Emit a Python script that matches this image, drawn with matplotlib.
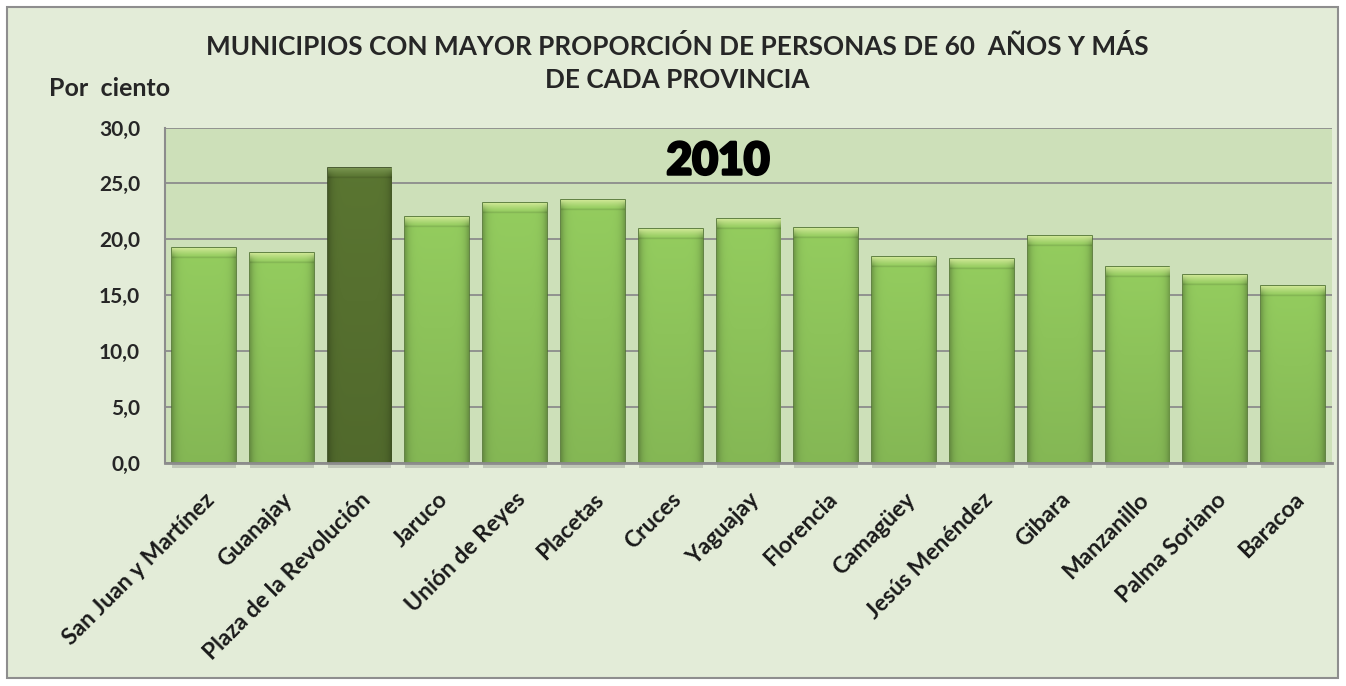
import numpy as np
import matplotlib
matplotlib.use("Agg")
import matplotlib.pyplot as plt
from matplotlib.patches import Rectangle
from matplotlib.colors import to_rgb
from matplotlib import patheffects

municipios = ["San Juan y Martínez", "Guanajay", "Plaza de la Revolución", "Jaruco",
              "Unión de Reyes", "Placetas", "Cruces", "Yaguajay", "Florencia",
              "Camagüey", "Jesús Menéndez", "Gibara", "Manzanillo", "Palma Soriano",
              "Baracoa"]
porcentajes = [19.2, 18.8, 26.4, 22.0, 23.2, 23.5, 20.9, 21.8, 21.0,
               18.4, 18.2, 20.3, 17.5, 16.8, 15.8]
destacado = "Plaza de la Revolución"
y_ticks = [0, 5, 10, 15, 20, 25, 30]
titulo_1 = "MUNICIPIOS CON MAYOR PROPORCIÓN DE PERSONAS DE 60  AÑOS Y MÁS"
titulo_2 = "DE CADA PROVINCIA"
unidad = "Por  ciento"
anio = "2010"

plt.rcParams['font.family'] = ['Lato', 'DejaVu Sans']

W, H = 1346, 686
fig = plt.figure(figsize=(W / 100, H / 100), dpi=100)
fig.patch.set_facecolor('white')

# marco exterior del grafico
fig.patches.append(Rectangle((7 / W, 8 / H), (1338 - 7) / W, (679 - 8) / H,
                             transform=fig.transFigure, facecolor='#E3ECD8',
                             edgecolor='#8E8E8E', linewidth=1.5, zorder=-10))

ax = fig.add_axes([165 / W, 1 - 462.5 / H, (1332 - 165) / W, (462.5 - 127.5) / H])
ax.set_facecolor('#CDE0B9')

x = np.arange(len(municipios))
colores = ['#56702F' if m == destacado else '#8DC35A' for m in municipios]
bordes = ['#34461C' if m == destacado else '#4F7230' for m in municipios]
bars = ax.bar(x, porcentajes, width=0.82, color=colores, edgecolor=bordes,
              linewidth=1.2, zorder=3)


def bar_image(color, value, destacada):
    # degradado con bisel superior, parecido al estilo de Excel
    n_rows = max(int(round(value * 20)), 2)
    n_cols = 48
    base = np.array(to_rgb(color))
    u = np.linspace(0, 1, n_cols)
    t = np.linspace(0, value, n_rows)[:, None]  # distancia desde arriba
    side = 1 - 0.22 * np.abs(2 * u - 1) ** 8
    body = 1.05 - 0.11 * (t / value)
    img = base[None, None, :] * (body * side[None, :])[:, :, None]
    luz = np.array(to_rgb('#7E9A55' if destacada else '#D6EB9C'))
    bisel = 0.9
    w = (np.clip(1 - t / bisel, 0, 1) ** 1.3)[:, :, None]
    img = img * (1 - w) + luz[None, None, :] * w
    linea = (np.abs(t - bisel) < 0.08)[:, :, None]
    img = np.where(linea, img * 0.9, img)
    return np.clip(img, 0, 1)


for b, v, c, m in zip(bars, porcentajes, colores, municipios):
    x0 = b.get_x()
    im = ax.imshow(bar_image(c, v, m == destacado), extent=(x0, x0 + b.get_width(), 0, v),
                   aspect='auto', interpolation='bilinear', zorder=3)
    im.set_clip_path(b)
    # sombra bajo el eje
    ax.add_patch(Rectangle((x0, -0.45), b.get_width(), 0.45, facecolor='#A9B0A4',
                           edgecolor='none', alpha=0.6, zorder=1, clip_on=False))

ax.set_xlim(-0.5, len(municipios) - 0.5)
ax.set_ylim(0, 30)
ax.set_yticks(y_ticks)
ax.set_yticklabels([f"{v:.1f}".replace('.', ',') for v in y_ticks],
                   fontsize=15, fontweight='bold', color='#262626')
ax.tick_params(axis='y', length=0, pad=18)
ax.yaxis.grid(True, color='#8C8C8C', linewidth=1.3, zorder=0)
ax.set_axisbelow(True)

ax.set_xticks(x)
ax.set_xticklabels(municipios, rotation=45, ha='right', rotation_mode='anchor',
                   fontsize=16.5, fontweight='bold', color='#1A1A1A')
ax.tick_params(axis='x', length=0, pad=19)

for s in ['top', 'right']:
    ax.spines[s].set_visible(False)
ax.spines['left'].set_color('#8C8C8C')
ax.spines['left'].set_linewidth(1.5)
ax.spines['bottom'].set_color('#8C8C8C')
ax.spines['bottom'].set_linewidth(2)
ax.spines['bottom'].set_zorder(4)

fig.text(677 / W, 1 - 46.5 / H, titulo_1, ha='center', va='center', fontsize=18.8,
         fontweight='bold', color='#262626')
fig.text(677 / W, 1 - 79.5 / H, titulo_2, ha='center', va='center', fontsize=18.8,
         fontweight='bold', color='#262626')
fig.text(49 / W, 1 - 88.5 / H, unidad, ha='left', va='center', fontsize=18,
         fontweight='bold', color='#262626')

ax.text(0.474, 0.899, anio, transform=ax.transAxes, ha='center', va='center',
        fontsize=32, fontweight='black', color='black', zorder=5,
        path_effects=[patheffects.withStroke(linewidth=2, foreground='black')])

fig.savefig('out.png', dpi=100)
